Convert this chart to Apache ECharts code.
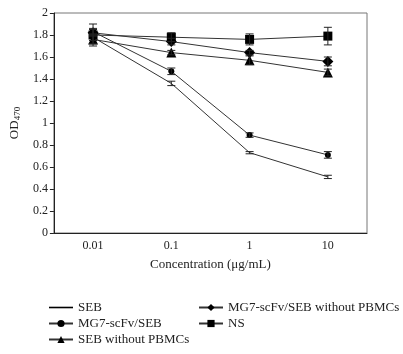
<!DOCTYPE html>
<html><head><meta charset="utf-8">
<script src="https://cdn.jsdelivr.net/npm/echarts@6/dist/echarts.min.js"></script>
<style>html,body{margin:0;padding:0;background:#fff}#c{width:403px;height:354px}</style>
</head><body><div id="c"></div>
<script>
const categories = ['0.01', '0.1', '1', '10'];
const yTicks = [0, 0.2, 0.4, 0.6, 0.8, 1, 1.2, 1.4, 1.6, 1.8, 2];
const seriesNames = ['SEB', 'MG7-scFv/SEB', 'SEB without PBMCs', 'MG7-scFv/SEB without PBMCs', 'NS'];
const sebValues = [1.78, 1.36, 0.73, 0.51];
const sebErr = [0.03, 0.02, 0.01, 0.015];
const mg7Values = [1.83, 1.47, 0.89, 0.71];
const mg7Err = [0.03, 0.03, 0.02, 0.03];
const sebNoPbmcValues = [1.76, 1.64, 1.57, 1.46];
const sebNoPbmcErr = [0.04, 0.02, 0.04, 0.03];
const mg7NoPbmcValues = [1.82, 1.74, 1.64, 1.56];
const mg7NoPbmcErr = [0.03, 0.03, 0.02, 0.04];
const nsValues = [1.80, 1.78, 1.76, 1.79];
const nsErr = [0.1, 0.04, 0.05, 0.08];

const font = 'Liberation Serif';
const values = [sebValues, mg7Values, sebNoPbmcValues, mg7NoPbmcValues, nsValues];
const errs = [sebErr, mg7Err, sebNoPbmcErr, mg7NoPbmcErr, nsErr];
const symbols = ['none', 'circle', 'triangle', 'diamond', 'rect'];
const symbolSizes = [0, 6, 10, 11, 9];

const series = [];
values.forEach((v, i) => {
  series.push({
    name: seriesNames[i], type: 'line', data: v,
    symbol: symbols[i], symbolSize: symbolSizes[i], showSymbol: symbols[i] !== 'none',
    lineStyle: { color: '#333', width: 1 },
    itemStyle: { color: '#000' },
    z: 3
  });
  series.push({
    type: 'custom', name: seriesNames[i] + '_err',
    data: v.map((val, k) => [k, val - errs[i][k], val + errs[i][k]]),
    renderItem: function (params, api) {
      const lo = api.coord([api.value(0), api.value(1)]);
      const hi = api.coord([api.value(0), api.value(2)]);
      const w = 4;
      const st = { stroke: '#222', lineWidth: 1 };
      return { type: 'group', children: [
        { type: 'line', shape: { x1: lo[0], y1: lo[1], x2: hi[0], y2: hi[1] }, style: st },
        { type: 'line', shape: { x1: lo[0] - w, y1: lo[1], x2: lo[0] + w, y2: lo[1] }, style: st },
        { type: 'line', shape: { x1: hi[0] - w, y1: hi[1], x2: hi[0] + w, y2: hi[1] }, style: st }
      ]};
    },
    z: 4, silent: true
  });
});

const legendText = { fontFamily: font, fontSize: 13, color: '#222' };
const chart = echarts.init(document.getElementById('c'), null, { renderer: 'canvas' });
chart.setOption({
  animation: false,
  textStyle: { fontFamily: font },
  grid: { left: 46, right: 36, top: 13, bottom: 121, show: true, borderColor: '#777', borderWidth: 1 },
  xAxis: {
    type: 'category', data: categories, boundaryGap: true,
    name: 'Concentration (μg/mL)', nameLocation: 'middle', nameGap: 25,
    nameTextStyle: { fontFamily: font, fontSize: 13, color: '#222' },
    axisLine: { lineStyle: { color: '#222', width: 1 } },
    axisTick: { inside: true, length: 5, lineStyle: { color: '#222' } },
    axisLabel: { fontFamily: font, fontSize: 12, color: '#222', margin: 7 },
    splitLine: { show: false }
  },
  yAxis: {
    type: 'value', min: 0, max: 2, interval: 0.2,
    name: '{a|OD}{b|470}', nameLocation: 'middle', nameGap: 31, nameRotate: 90,
    nameTextStyle: { fontFamily: font, color: '#222',
      rich: { a: { fontFamily: font, fontSize: 13, color: '#222' }, b: { fontFamily: font, fontSize: 9, color: '#222', padding: [6, 0, 0, 0] } } },
    axisLine: { show: true, lineStyle: { color: '#222', width: 1 } },
    axisTick: { show: true, length: 4, lineStyle: { color: '#222' } },
    axisLabel: { fontFamily: font, fontSize: 12, color: '#222', margin: 6,
      formatter: v => String(parseFloat(v.toFixed(1))) },
    splitLine: { show: false }
  },
  legend: [
    { data: [{ name: seriesNames[0], icon: 'path://M0,0H24V1.6H0Z' }, seriesNames[1], seriesNames[2]],
      orient: 'vertical', left: 43, top: 296, itemGap: 3,
      itemWidth: 24, itemHeight: 9, textStyle: legendText },
    { data: seriesNames.slice(3), orient: 'vertical', left: 193, top: 296, itemGap: 3,
      itemWidth: 24, itemHeight: 9, textStyle: legendText }
  ],
  series: series
});
</script></body></html>
